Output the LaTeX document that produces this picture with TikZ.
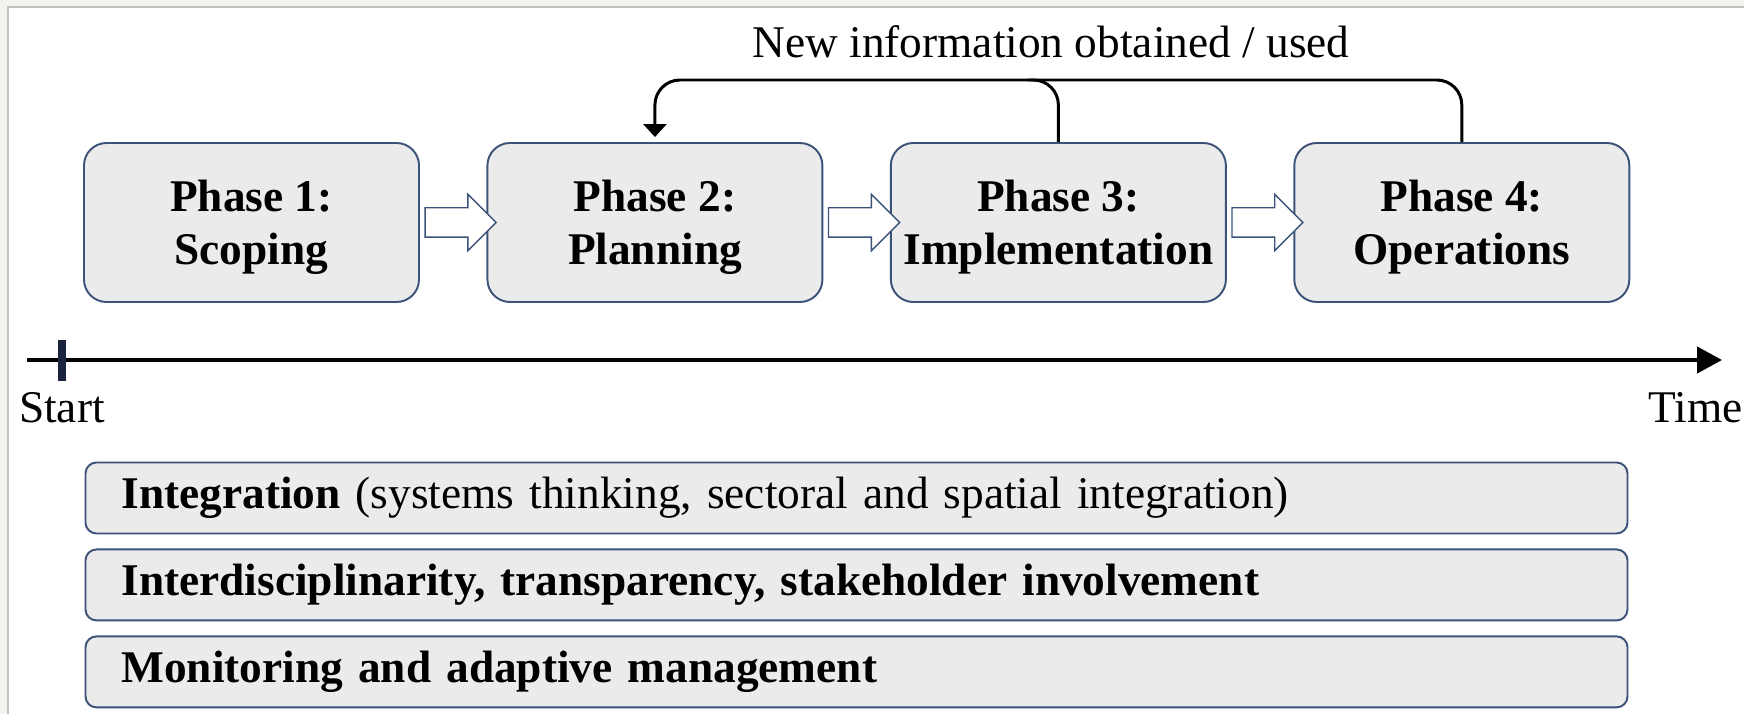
\documentclass[tikz,border=0pt]{standalone}
\usepackage{fontspec}
\setmainfont{Liberation Serif}
\usetikzlibrary{positioning, calc, arrows.meta, shapes.arrows}

\definecolor{boxline}{RGB}{60,82,120}
\definecolor{boxfill}{RGB}{235,235,235}
\definecolor{pagebg}{RGB}{243,242,236}
\definecolor{pageedge}{RGB}{192,192,188}
\definecolor{tickcol}{RGB}{25,35,60}

\begin{document}
\begin{tikzpicture}[font=\fontsize{25.8pt}{30.2pt}\selectfont,
	phase/.style={draw=boxline, fill=boxfill, line width=1.1pt, rounded corners=0.45cm,
		minimum width=6.7cm, minimum height=3.18cm, inner xsep=0.1cm, align=center,
		font=\fontsize{25.8pt}{30.2pt}\selectfont\bfseries, text height=1.87cm},
	band/.style={draw=boxline, fill=boxfill, line width=1.1pt, rounded corners=0.22cm,
		text width=29.4cm, inner xsep=0.72cm, inner ysep=0.15cm, minimum height=1.42cm, align=left},
	hollow/.style={single arrow, draw=boxline, fill=white, line width=0.8pt, inner sep=0.28cm,
		single arrow head extend=0.27cm, minimum height=1.42cm},
	feed/.style={line width=1.7pt, rounded corners=0.5cm}]
			
			% Constants
			\def\W{34.88}
			\def\H{14.28}
			\def\ytop{12.68} % level of the feedback line
			\def\ytime{7.08}
			
			% === PAGE ===
			\useasboundingbox (0,0) rectangle (\W,\H);
			\fill[pagebg] (0,0) rectangle (\W,\H);
			\fill[white] (0.16,0) rectangle (\W,14.14);
			\draw[pageedge, line width=1.2pt] (0.16,0) -- (0.16,14.14) -- (\W,14.14);
			
			% === PHASES ===
			\node[phase] (ph1) at (5.03,9.83) {Phase 1:\\Scoping};
			\node[phase, right=1.33cm of ph1] (ph2) {Phase 2:\\Planning};
			\node[phase, right=1.33cm of ph2] (ph3) {Phase 3:\\Implementation};
			\node[phase, right=1.33cm of ph3] (ph4) {Phase 4:\\Operations};
			
			\foreach \a/\b in {ph1/ph2, ph2/ph3, ph3/ph4}
				\node[hollow] (arr-\a) at ($(\a.east)!0.5!(\b.west)$) {};
			
			% Feedback
			\coordinate (fb) at (0,\ytop);
			\draw[feed] (ph3.north) |- ($(ph3.north |- fb)+(-0.6,0)$);
			\draw[feed, -{Triangle[width=0.46cm, length=0.26cm]}, shorten >=0.1cm]
			(ph4.north) |- (ph2.north |- fb) -- (ph2.north);
			\node[anchor=base] (info) at (21.02,13.12) {New information obtained / used};
			
			% === TIME AXIS ===
			\coordinate (t0) at (0.54,\ytime);
			\coordinate (t1) at (34.44,\ytime);
			\draw[line width=2.6pt, -{Triangle[width=0.52cm, length=0.5cm]}] (t0) -- (t1);
			\draw[tickcol, line width=0.16cm] (1.24,6.66) -- (1.24,7.48);
			\node[anchor=base] (start) at (1.24,5.84) {Start};
			\node[anchor=base east, inner xsep=0pt] (time) at (34.86,5.84) {Time};
			
			% === PRINCIPLES ===
			\node[band] (b1) at (17.13,4.32) {\textbf{Integration} (systems thinking, sectoral and spatial integration)};
			\node[band, below=0.28cm of b1] (b2) {\textbf{Interdisciplinarity, transparency, stakeholder involvement}};
			\node[band, below=0.28cm of b2] (b3) {\textbf{Monitoring and adaptive management}};
			
		\end{tikzpicture}
\end{document}
